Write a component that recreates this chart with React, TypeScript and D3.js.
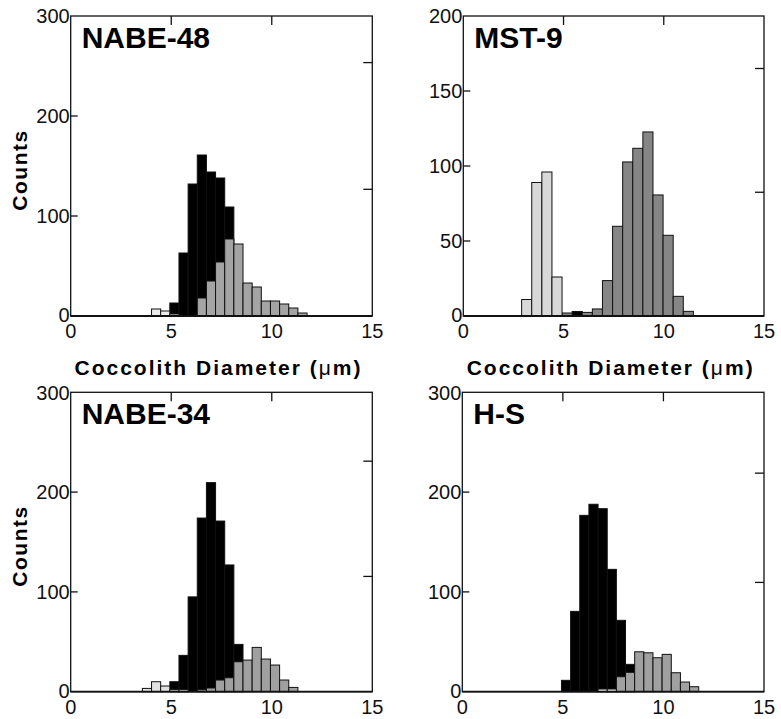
import React from "react";
import * as d3 from "d3";

// ---- data (counts per size bin) ----
const panelNames = ["NABE-48", "MST-9", "NABE-34", "H-S"];
const binStarts = [3.565, 2.91, 3.565, 3.565];
const binWidths = [0.455, 0.504, 0.455, 0.455];
const yMaxes = [300, 200, 300, 300];
const yTickValues = [[0, 100, 200, 300], [0, 50, 100, 150, 200], [0, 100, 200, 300], [0, 100, 200, 300]];
const xTickValues = [0, 5, 10, 15];
const rightTickSteps = [126.7, 82.5, 115.5, 109.5];

const blackA = [0, 0, 0, 13, 63, 132, 161, 144, 138, 109, 0, 0, 0, 0, 0, 0, 0, 0];
const grayA = [0, 0, 0, 0, 0, 0, 18, 35, 54, 77, 72, 33, 29, 15, 15, 12, 8, 3];
const lightA = [0, 7, 5, 2, 0, 0, 0, 0, 0, 0, 0, 0, 0, 0, 0, 0, 0, 0];

const blackB = [0, 0, 0, 0, 0, 3, 0, 0, 0, 0, 0, 0, 0, 0, 0, 0, 0];
const grayB = [0, 0, 0, 0, 2, 0, 2.4, 4.7, 23.6, 59.8, 102.7, 111.8, 122.7, 80.7, 53.8, 13.1, 3.1];
const lightB = [11, 89, 96, 26, 0, 0, 0, 0, 0, 0, 0, 0, 0, 0, 0, 0, 0];

const blackC = [0, 0, 0, 10, 36.4, 95, 174, 209.5, 171, 127, 47.4, 0, 0, 0, 0, 0, 0];
const grayC = [0, 0, 0, 0, 0, 0, 2, 3.7, 11.7, 14, 30, 31.7, 44.4, 32.7, 26.7, 11.7, 4.3];
const lightC = [3.3, 10, 5.7, 2, 2, 0, 0, 0, 0, 0, 0, 0, 0, 0, 0, 0, 0];

const blackD = [0, 0, 0, 11.4, 80.5, 176.7, 187.8, 183.4, 122.6, 71.5, 27.4, 0, 0, 0, 0, 0, 0, 0];
const grayD = [0, 0, 0, 0, 0, 0, 0, 0, 0, 15, 19.4, 40, 39, 34, 37.4, 19, 9.7, 5];
const lightD = [0, 0, 0, 0, 0, 0, 0, 2.7, 2.7, 0, 0, 0, 0, 0, 0, 0, 0, 0];

const blacks = [blackA, blackB, blackC, blackD];
const grays = [grayA, grayB, grayC, grayD];
const lights = [lightA, lightB, lightC, lightD];

// ---- layout / style ----
const frames = [
  { x: 70.7, y: 16, w: 301.6, h: 300 },
  { x: 463.3, y: 16, w: 300.7, h: 300 },
  { x: 70.7, y: 392.3, w: 301.6, h: 299.4 },
  { x: 462.3, y: 392.3, w: 301.7, h: 299.4 },
];
const grayFill = ["#a4a4a4", "#868686", "#a0a0a0", "#a0a0a0"];
const lightFill = ["#ececec", "#d8d8d8", "#e2e2e2", "#e6e6e6"];
const FONT = "'Liberation Sans', Arial, Helvetica, sans-serif";

function Panel({ i }: { i: number }) {
  const f = frames[i];
  const x = d3.scaleLinear().domain([0, 15]).range([f.x, f.x + f.w]);
  const y = d3.scaleLinear().domain([0, yMaxes[i]]).range([f.y + f.h, f.y]);
  const bw = binWidths[i];
  const bs = binStarts[i];
  const series = [
    { vals: blacks[i], fill: "#000" },
    { vals: grays[i], fill: grayFill[i] },
    { vals: lights[i], fill: lightFill[i] },
  ];
  const rs = rightTickSteps[i];
  const rightTicks = [rs, 2 * rs].filter((v) => v < yMaxes[i]);
  return (
    <g>
      {series.map((s, si) =>
        s.vals.map((v, k) =>
          v > 0 ? (
            <rect
              key={si + "-" + k}
              x={x(bs + k * bw)}
              y={y(v)}
              width={x(bs + (k + 1) * bw) - x(bs + k * bw)}
              height={y(0) - y(v)}
              fill={s.fill}
              stroke="#111"
              strokeWidth={1}
            />
          ) : null
        )
      )}
      <rect x={f.x} y={f.y} width={f.w} height={f.h} fill="none" stroke="#111" strokeWidth={1.3} />
      <line x1={f.x} x2={f.x + f.w} y1={f.y + f.h} y2={f.y + f.h} stroke="#111" strokeWidth={1.8} />
      {yTickValues[i].map((t) => (
        <g key={"yt" + t}>
          {t > 0 && t < yMaxes[i] ? (
            <line x1={f.x} x2={f.x + 7} y1={y(t)} y2={y(t)} stroke="#111" strokeWidth={1.3} />
          ) : null}
          <text x={f.x - 1} y={y(t) - (t === 0 ? 1 : 0)} dy="0.36em" textAnchor="end" fontSize={20} fontFamily={FONT} fill="#111">
            {t}
          </text>
        </g>
      ))}
      {rightTicks.map((t) => (
        <line key={"rt" + t} x1={f.x + f.w - 9} x2={f.x + f.w} y1={y(t)} y2={y(t)} stroke="#111" strokeWidth={1.3} />
      ))}
      {xTickValues.map((t) => (
        <g key={"xt" + t}>
          {t > 0 && t < 15 ? (
            <line x1={x(t)} x2={x(t)} y1={f.y} y2={f.y + 9} stroke="#111" strokeWidth={1.3} />
          ) : null}
          <text x={x(t)} y={f.y + f.h + 22} textAnchor="middle" fontSize={20} fontFamily={FONT} fill="#111">
            {t}
          </text>
        </g>
      ))}
      <text x={f.x + 11} y={f.y + 32} fontSize={30} fontWeight="bold" fontFamily={FONT} fill="#000">
        {panelNames[i]}
      </text>
    </g>
  );
}

export default function App() {
  return (
    <svg width={781} height={719} style={{ position: "absolute", left: 0, top: 0, background: "#fff" }}>
      <rect width={781} height={719} fill="#fff" />
      {[0, 1, 2, 3].map((i) => (
        <Panel key={i} i={i} />
      ))}
      {[0, 1].map((i) => (
        <text
          key={"xl" + i}
          x={frames[i].x + frames[i].w / 2 - 3}
          y={375}
          textAnchor="middle"
          fontSize={21}
          fontWeight="bold"
          fontFamily={FONT}
          letterSpacing={2}
          fill="#000"
        >
          Coccolith Diameter (<tspan fontWeight="normal">μ</tspan>m)
        </text>
      ))}
      {[0, 2].map((i) => (
        <text
          key={"yl" + i}
          transform={`translate(27,${frames[i].y + frames[i].h / 2 + 4}) rotate(-90)`}
          textAnchor="middle"
          fontSize={21}
          fontWeight="bold"
          fontFamily={FONT}
          letterSpacing={1.5}
          fill="#000"
        >
          Counts
        </text>
      ))}
    </svg>
  );
}
